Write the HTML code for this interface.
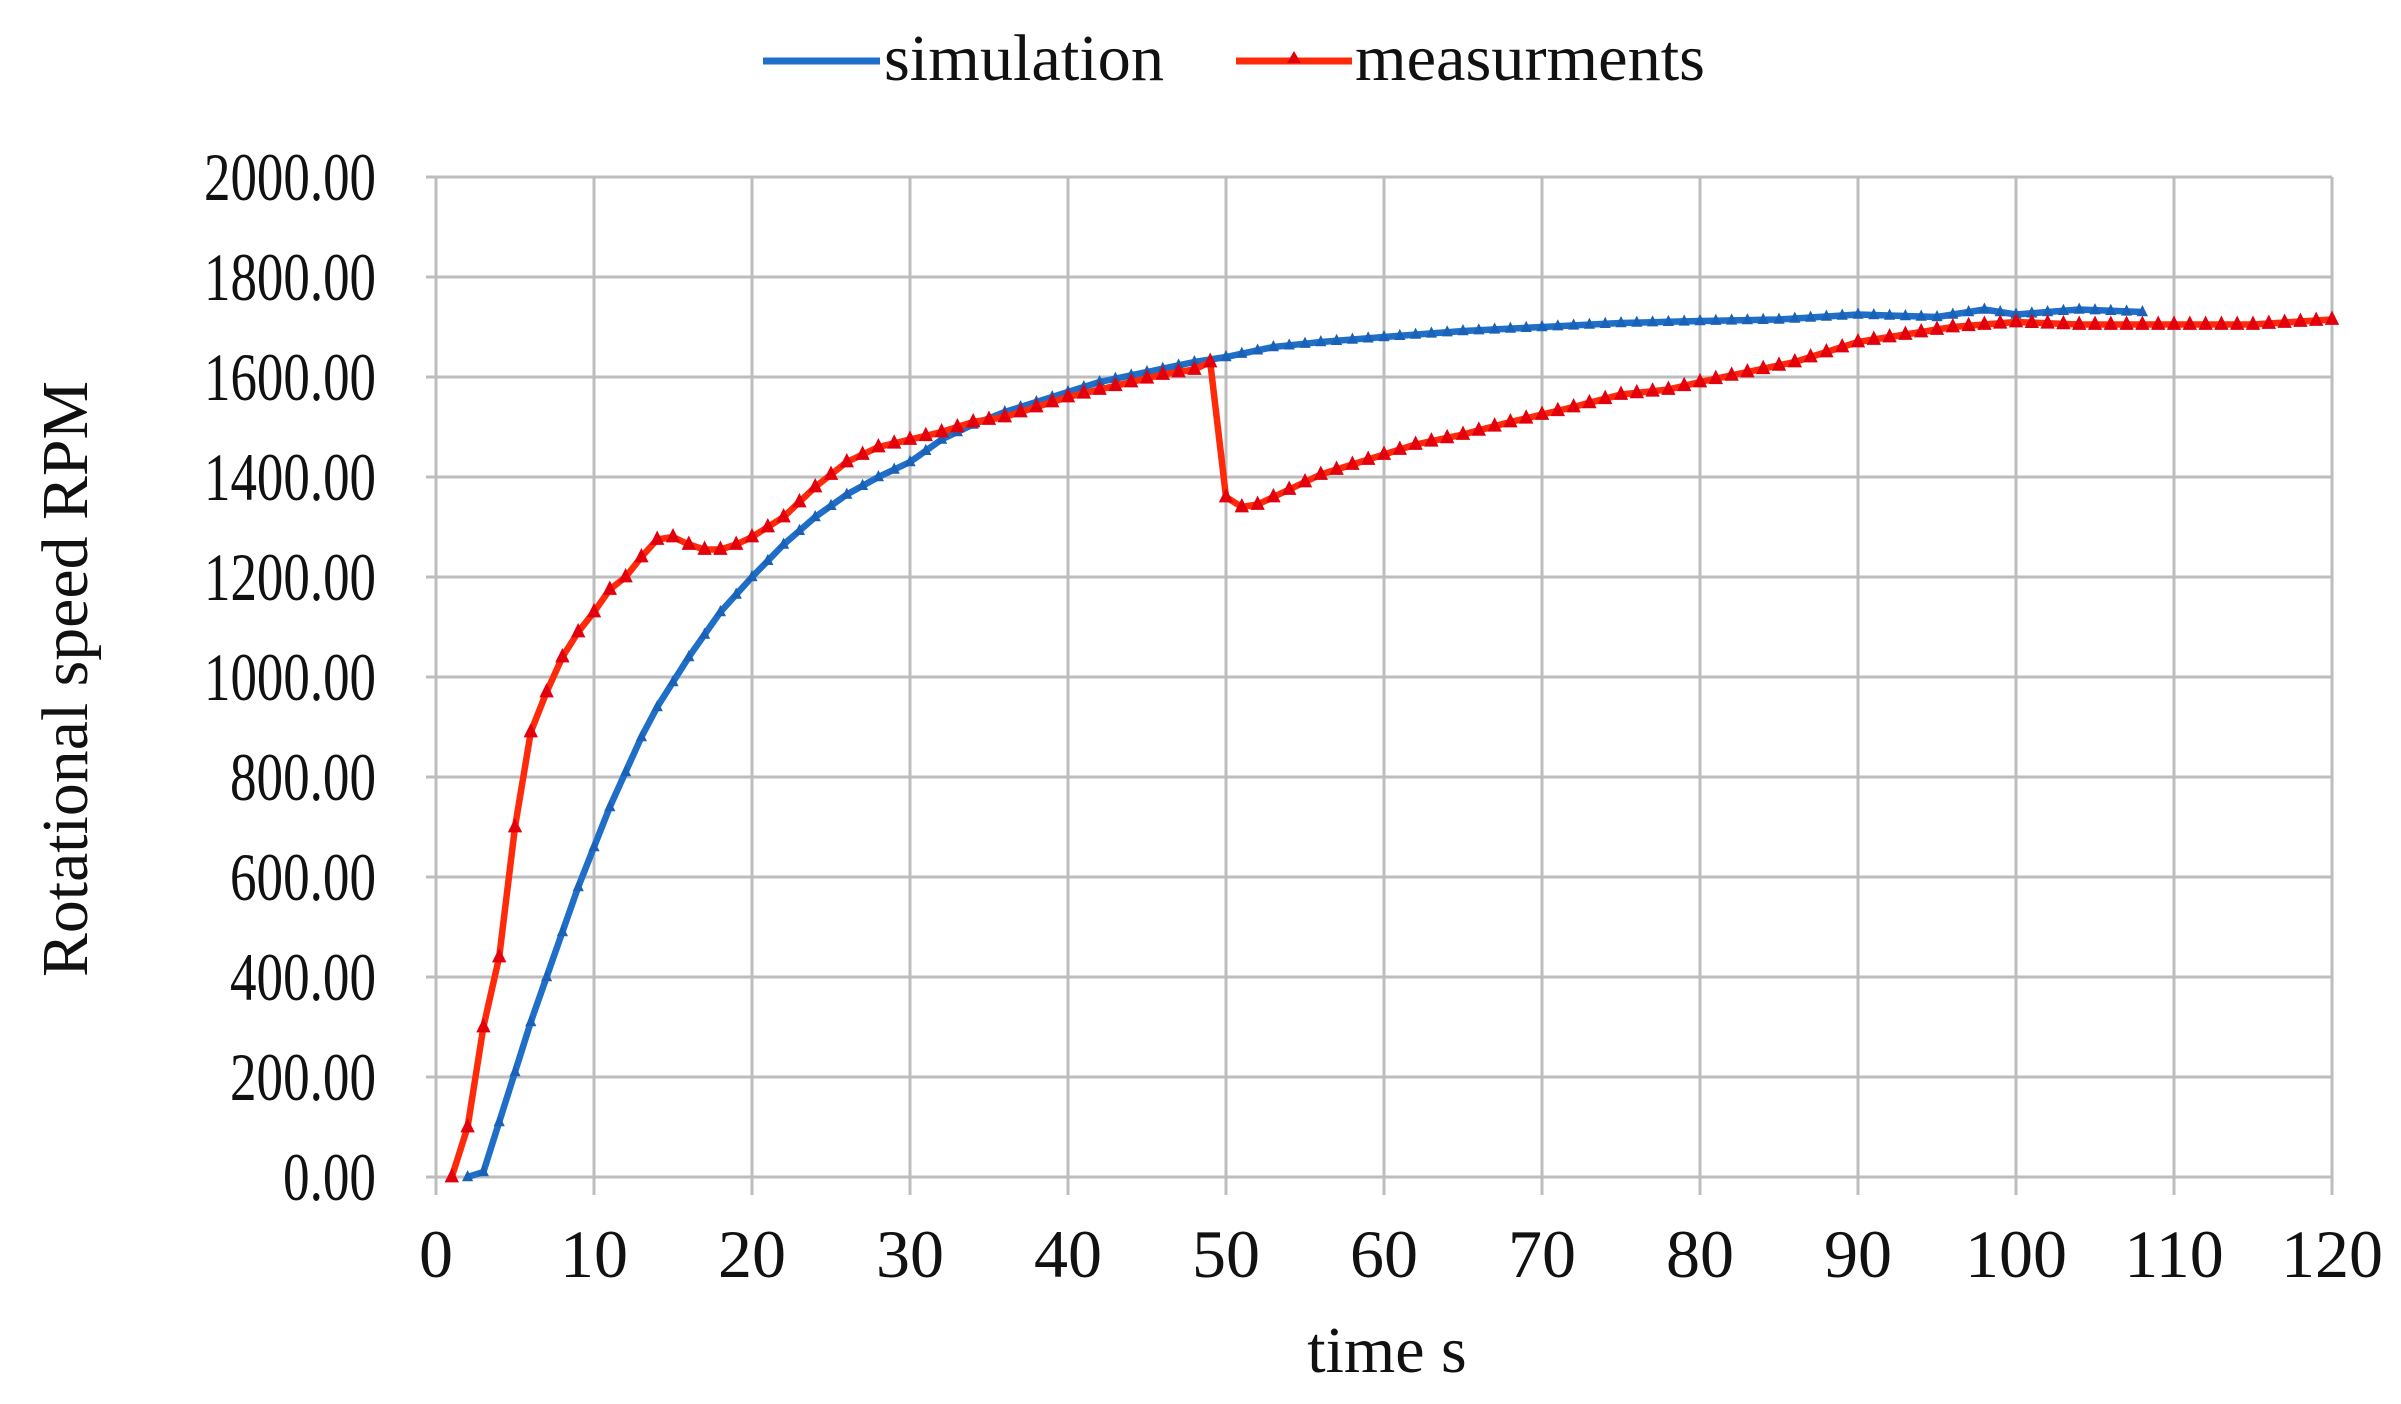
<!DOCTYPE html>
<html><head><meta charset="utf-8"><style>
html,body{margin:0;padding:0;background:#fff;}
svg{display:block;}
text{font-family:"Liberation Serif",serif;fill:#111;}
</style></head><body>
<svg id="s" width="2401" height="1404" viewBox="0 0 2401 1404" xmlns="http://www.w3.org/2000/svg">
<g id="grid" stroke="#bdbdbd" stroke-width="3"></g>
<g id="labels" font-size="68"></g>
<text x="87" y="679" font-size="66" text-anchor="middle" transform="rotate(-90 87 679)" textLength="596" lengthAdjust="spacingAndGlyphs">Rotational speed RPM</text>
<text x="1387" y="1372" font-size="66" text-anchor="middle">time s</text>
<line x1="763" y1="61" x2="880" y2="61" stroke="#1f6fc8" stroke-width="7"/>
<text x="884" y="80" font-size="66" textLength="280" lengthAdjust="spacingAndGlyphs">simulation</text>
<line x1="1236" y1="61" x2="1352" y2="61" stroke="#ff2a0a" stroke-width="7"/>
<polygon points="1294,51 1287,63 1301,63" fill="#e0000a"/>
<text x="1355" y="80" font-size="66" textLength="350" lengthAdjust="spacingAndGlyphs">measurments</text>
<g id="series"></g>
</svg>
<script>
var X0=436,XS=15.8,Y0=1177,YS=0.5;
function px(t){return X0+t*XS} function py(v){return Y0-v*YS}
var ns="http://www.w3.org/2000/svg",g=document.getElementById('grid'),lb=document.getElementById('labels');
function el(p,tag,a,txt){var e=document.createElementNS(ns,tag);for(var k in a)e.setAttribute(k,a[k]);if(txt!=null)e.textContent=txt;p.appendChild(e);return e}
for(var i=0;i<=10;i++){var y=py(i*200);el(g,'line',{x1:px(0)-10,y1:y,x2:px(120),y2:y});
var s=(i*200).toFixed(2);var w=172*((s.length-1)*0.5+0.25)/3.25;
el(lb,'text',{x:376,y:y+23,'text-anchor':'end',textLength:w.toFixed(0),lengthAdjust:'spacingAndGlyphs'},s);}
for(var i=0;i<=12;i++){var x=px(i*10);el(g,'line',{x1:x,y1:py(2000),x2:x,y2:Y0+18});
el(lb,'text',{x:x,y:1277,'text-anchor':'middle'},String(i*10));}
var meas=[[1,0],[2,100],[3,300],[4,440],[5,700],[6,890],[7,970],[8,1040],[9,1090],[10,1130],[11,1175],[12,1200],[13,1240],[14,1275],[15,1280],[16,1265],[17,1255],[18,1255],[19,1265],[20,1280],[22,1320],[24,1380],[26,1430],[28,1460],[30,1475],[32,1490],[34,1510],[36,1520],[38,1540],[40,1560],[42,1575],[44,1590],[46,1605],[48,1615],[49,1630],[50,1360],[51,1340],[52,1345],[54,1375],[56,1405],[58,1425],[60,1445],[62,1465],[65,1485],[68,1510],[70,1525],[72,1540],[75,1565],[78,1575],[80,1590],[83,1610],[86,1630],[88,1650],[90,1670],[93,1685],[96,1700],[100,1710],[104,1705],[110,1705],[115,1705],[120,1715]];
var sim=[[2,0],[3,10],[4,110],[5,210],[6,310],[7,400],[8,490],[9,580],[10,660],[11,740],[12,810],[13,880],[14,940],[15,990],[16,1040],[17,1085],[18,1130],[19,1165],[20,1200],[22,1265],[24,1320],[26,1365],[28,1400],[30,1430],[32,1475],[34,1505],[36,1530],[38,1550],[40,1570],[42,1590],[45,1610],[48,1630],[50,1640],[53,1660],[56,1670],[60,1680],[65,1692],[70,1700],[75,1708],[80,1712],[85,1715],[90,1725],[95,1720],[98,1735],[100,1725],[104,1735],[108,1730]];
function interp(d,t){for(var i=0;i<d.length-1;i++){if(t>=d[i][0]&&t<=d[i+1][0]){var f=(t-d[i][0])/(d[i+1][0]-d[i][0]);return d[i][1]+f*(d[i+1][1]-d[i][1]);}}return d[d.length-1][1]}
var sg=document.getElementById('series');
function draw(d,col,mcol,sz){var pts=[];var t0=d[0][0],t1=d[d.length-1][0];var mk=[];
for(var t=t0;t<=t1+1e-9;t+=1){var v=interp(d,t);pts.push(px(t).toFixed(1)+','+py(v).toFixed(1));mk.push([px(t),py(v)]);}
el(sg,'polyline',{points:pts.join(' '),fill:'none',stroke:col,'stroke-width':6.5,'stroke-linejoin':'round'});
mk.forEach(function(p){el(sg,'polygon',{points:(p[0])+','+(p[1]-sz)+' '+(p[0]-sz*0.8)+','+(p[1]+sz*0.6)+' '+(p[0]+sz*0.8)+','+(p[1]+sz*0.6),fill:mcol});});}
draw(sim,'#1f6fc8','#1a62b8',7);
draw(meas,'#ff2a0a','#e3000c',9);
</script>
</body></html>
